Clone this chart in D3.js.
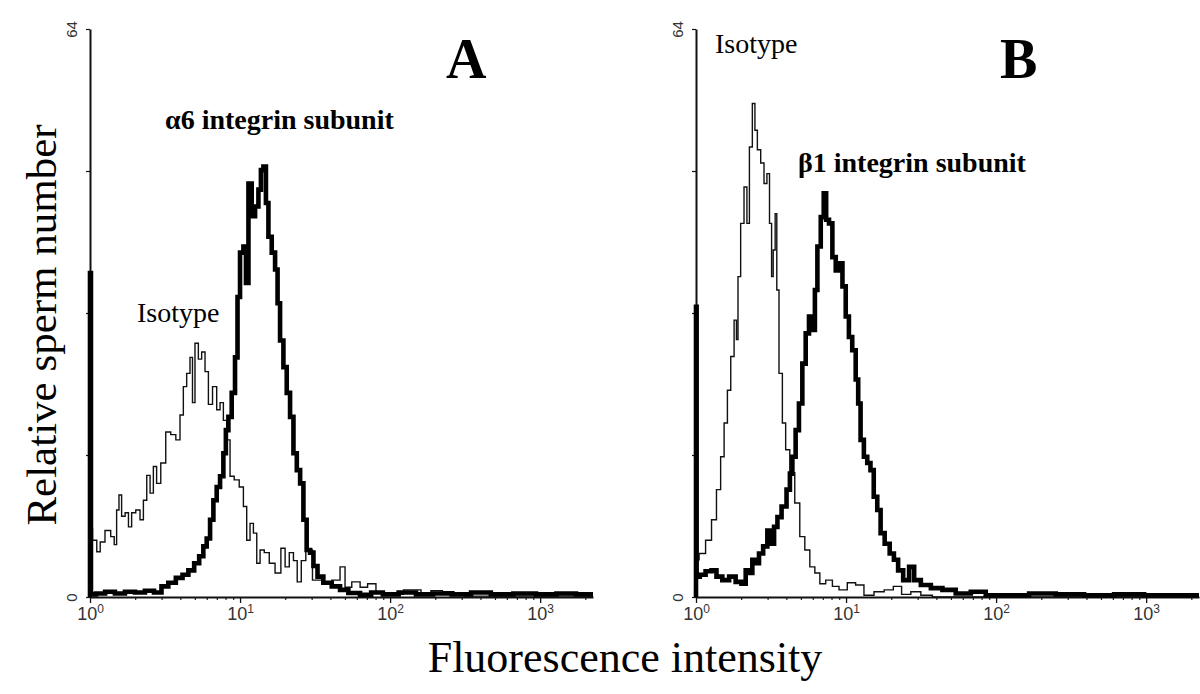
<!DOCTYPE html>
<html>
<head>
<meta charset="utf-8">
<script src="https://cdn.jsdelivr.net/npm/d3@7"></script>
<style>
  body { margin: 0; background: #fff; }
  svg { display: block; }
</style>
</head>
<body>
<svg id="chart" width="1200" height="694"></svg>
<script>
// fluorescence intensity (linear units) vs relative sperm number (0-64)
// panel A: alpha6 integrin subunit and its isotype control
const alpha6A = [
  [1, 0], [1, 36.5], [1.03, 0.3], [1.17, 0.4], [1.36, 0.6], [1.58, 0.4], [1.85, 0.6],
  [2.15, 0.5], [2.51, 0.7], [2.84, 0.5], [3.16, 1.2], [3.5, 1.6], [3.98, 2.15],
  [4.3, 2.5], [4.76, 3.0], [5.14, 3.8], [5.55, 4.6], [5.84, 5.7], [6.15, 6.6],
  [6.48, 8.7], [6.81, 10.9], [7.17, 12.4], [7.55, 13.6], [7.94, 16.2], [8.15, 18.8],
  [8.58, 20.3], [9.02, 23], [9.5, 27], [9.74, 33.8], [10.26, 38.8], [10.8, 39.5],
  [11.1, 35.4], [11.66, 46.6], [12.27, 42.9], [12.92, 44], [13.6, 45.9], [13.95, 48.1],
  [14.68, 48.5], [15.07, 44.4], [15.85, 40.6], [16.68, 38.8], [17.57, 36.9], [18.0, 33.1],
  [18.97, 28.9], [19.95, 25.9], [21.0, 23], [22.1, 20.3], [23.3, 16.2], [24.5, 14.3],
  [25.8, 12.8], [27.1, 8.7], [28.5, 5.3], [30.1, 5.0], [31.6, 3.5], [34.1, 2.3],
  [37.8, 1.6], [44.1, 1.2], [48.8, 0.8], [56.9, 0.45], [69.9, 0.25], [80, 0.5],
  [100, 0.3], [130, 0.5], [170, 0.3], [220, 0.4], [300, 0.3], [400, 0.5], [550, 0.3],
  [800, 0.4], [1100, 0.3], [1500, 0.4], [2000, 0.3], [2250, 0.3]
];
const isotypeA = [
  [1.0, 0], [1.0, 7.7], [1.08, 6.4], [1.14, 5.1], [1.2, 6.2], [1.32, 7.5], [1.43, 6.8],
  [1.47, 5.9], [1.54, 9.8], [1.58, 11.5], [1.67, 9.1], [1.76, 9.5], [1.85, 7.9],
  [1.94, 9.5], [2.1, 9.8], [2.21, 8.7], [2.33, 10.9], [2.45, 13.7], [2.58, 11.7],
  [2.71, 14.7], [2.85, 12.8], [3.08, 15.1], [3.32, 18.6], [3.59, 18.3], [3.88, 17.7],
  [4.08, 20.5], [4.3, 23.7], [4.52, 25.2], [4.76, 27.0], [4.88, 21.9], [5.14, 28.6],
  [5.41, 26.8], [5.69, 27.6], [6.0, 25.4], [6.31, 21.7], [6.81, 23.7], [7.17, 21.1],
  [7.55, 21.9], [7.94, 19.9], [8.36, 17.7], [8.8, 13.6], [9.5, 13.2], [10.26, 12.4],
  [10.8, 10.2], [11.36, 6.4], [11.96, 8.3], [12.6, 7.2], [13.25, 3.8], [13.95, 5.3],
  [15.07, 5.0], [16.27, 3.8], [18.0, 2.7], [19.45, 5.5], [20.5, 3.4], [22.1, 5.0],
  [23.3, 4.1], [24.8, 1.7], [26.4, 4.1], [28.5, 5.3], [32.4, 1.9], [37.8, 1.6],
  [44.1, 1.9], [48.8, 3.4], [51.4, 1.1], [60, 1.7], [66.4, 1.1], [75.5, 1.5],
  [85.8, 0.45], [100, 0.3], [151, 0.8], [171, 0.3], [205, 0.7], [243, 0.6], [292, 0.4],
  [340, 0.1], [2250, 0.1]
];
// panel B: beta1 integrin subunit and its isotype control
const beta1B = [
  [1, 0], [1, 32.7], [1.02, 2.3], [1.10, 2.5], [1.22, 2.9], [1.32, 3.0], [1.42, 2.3],
  [1.58, 1.9], [1.75, 2.3], [1.93, 1.7], [2.09, 1.5], [2.20, 3.0], [2.31, 2.7],
  [2.44, 4.2], [2.56, 3.8], [2.70, 4.9], [2.91, 5.7], [3.07, 7.5], [3.23, 6.0],
  [3.40, 7.9], [3.58, 9.0], [3.86, 10.2], [4.17, 12.1], [4.28, 13.9], [4.50, 15.8],
  [4.73, 18.8], [4.98, 21.8], [5.25, 26.3], [5.52, 29.7], [5.81, 31.6], [6.12, 30.1],
  [6.28, 34.6], [6.61, 39.5], [6.96, 42.8], [7.24, 45.5], [7.50, 42.5], [7.90, 42.1],
  [8.32, 38.3], [8.76, 36.8], [9.22, 37.6], [9.71, 35.0], [10.2, 31.6], [10.7, 29.3],
  [11.3, 27.8], [11.9, 24.5], [12.2, 21.8], [12.8, 17.7], [13.5, 15.8], [14.2, 15.1],
  [14.9, 14.3], [15.7, 11.3], [16.6, 9.8], [17.4, 7.2], [18.8, 6.0], [20.3, 4.9],
  [21.4, 4.2], [23.1, 3.0], [25.0, 1.9], [27.7, 3.4], [29.2, 1.9], [34.0, 1.35],
  [39.7, 1.0], [48.5, 0.8], [59.7, 0.4], [77.0, 0.6], [94.5, 0.2], [135, 0.2],
  [204, 0.4], [306, 0.3], [486, 0.2], [770, 0.3], [1220, 0.2], [2250, 0.2]
];
const isotypeB = [
  [1.0, 0], [1.0, 4.2], [1.10, 4.9], [1.22, 6.4], [1.32, 8.7], [1.42, 12.1], [1.50, 15.8],
  [1.58, 19.6], [1.66, 23.3], [1.75, 27.1], [1.84, 31.2], [1.88, 29], [1.93, 36.1],
  [2.04, 42.1], [2.14, 46.2], [2.23, 42.1], [2.31, 50.7], [2.44, 55.6], [2.50, 52.6],
  [2.63, 50.4], [2.77, 48.9], [2.91, 46.6], [3.03, 47.7], [3.15, 42.1], [3.23, 36.1],
  [3.31, 39.1], [3.43, 43.2], [3.48, 34.6], [3.67, 25.2], [3.86, 19.6], [4.06, 16.6],
  [4.38, 14], [4.73, 10.6], [5.11, 6.8], [5.52, 5.3], [5.96, 3.4], [6.44, 2.7],
  [6.95, 1.5], [7.70, 1.9], [8.54, 1.2], [9.44, 0.8], [11.0, 1.6], [12.2, 1.35],
  [14.2, 0.2], [16.6, 0.6], [19.4, 0.8], [22.0, 1.2], [25.0, 0.3], [29.2, 0.6],
  [34.0, 0.2], [41.7, 0], [2250, 0]
];

const panels = [
  { letter: "A", left: 90, right: 593, pos: alpha6A, iso: isotypeA,
    posLabel: "\u03b16 integrin subunit", posXY: [165, 129],
    isoXY: [137, 322], letterXY: [446, 78] },
  { letter: "B", left: 696, right: 1199, pos: beta1B, iso: isotypeB,
    posLabel: "\u03b21 integrin subunit", posXY: [798, 172],
    isoXY: [715, 53], letterXY: [1000, 78] }
];

const xDomain = [1, 2250];
const yDomain = [0, 64];
const yTop = 29, yBottom = 597;

const svg = d3.select("#chart");

const sans = "'Liberation Sans', Arial, sans-serif";
const serif = "'Liberation Serif', 'Times New Roman', serif";

panels.forEach(p => {
  const x = d3.scaleLog().domain(xDomain).range([p.left, p.right]);
  const y = d3.scaleLinear().domain(yDomain).range([yBottom, yTop]);

  const g = svg.append("g");

  // minor x ticks
  const minor = [];
  [1, 10, 100, 1000].forEach(d => {
    for (let k = 2; k <= 9; k++) if (d * k <= xDomain[1]) minor.push(d * k);
  });
  g.append("g")
    .attr("transform", "translate(0," + yBottom + ")")
    .call(d3.axisBottom(x).tickValues(minor).tickSize(3).tickSizeOuter(0).tickFormat(""))
    .call(a => a.select(".domain").remove())
    .selectAll("line").attr("stroke", "#222").attr("stroke-width", 1.2);

  // major x ticks and labels 10^n
  const xAxis = g.append("g")
    .attr("transform", "translate(0," + yBottom + ")")
    .call(d3.axisBottom(x).tickValues([1, 10, 100, 1000]).tickSize(6).tickSizeOuter(0).tickFormat(""));
  xAxis.select(".domain").attr("stroke", "#111").attr("stroke-width", 2.2);
  xAxis.selectAll("line").attr("stroke", "#111").attr("stroke-width", 1.3);
  xAxis.selectAll(".tick").each(function (d) {
    const t = d3.select(this).append("text")
      .attr("y", 23)
      .attr("fill", "#333")
      .attr("text-anchor", "middle")
      .style("font-family", sans)
      .style("font-size", "18px");
    t.append("tspan").text("10");
    t.append("tspan").attr("dy", -7).style("font-size", "12px").text(Math.round(Math.log10(d)));
  });

  // y axis
  const yAxis = g.append("g")
    .attr("transform", "translate(" + p.left + ",0)")
    .call(d3.axisLeft(y).tickValues([0, 16, 32, 48, 64]).tickSize(4).tickSizeOuter(0)
      .tickFormat(d => (d === 0 || d === 64) ? d : ""));
  yAxis.select(".domain").attr("stroke", "#111").attr("stroke-width", 2);
  yAxis.selectAll("line").attr("stroke", "#111").attr("stroke-width", 1.2);
  yAxis.selectAll("text")
    .attr("x", 0).attr("y", -13).attr("dy", null)
    .attr("transform", "rotate(-90)")
    .attr("text-anchor", "middle")
    .attr("fill", "#333")
    .style("font-family", sans)
    .style("font-size", "15px");

  const line = d3.line()
    .x(d => x(d[0]))
    .y(d => y(d[1]))
    .curve(d3.curveStep);

  g.append("path")
    .datum(p.iso)
    .attr("d", line)
    .attr("fill", "none")
    .attr("stroke", "#111")
    .attr("stroke-width", 1.4);

  g.append("path")
    .datum(p.pos)
    .attr("d", line)
    .attr("fill", "none")
    .attr("stroke", "#000")
    .attr("stroke-width", 4.6)
    .attr("stroke-linejoin", "miter");

  g.append("text")
    .attr("x", p.letterXY[0]).attr("y", p.letterXY[1])
    .style("font-family", serif).style("font-weight", "bold").style("font-size", "56px")
    .text(p.letter);

  g.append("text")
    .attr("x", p.posXY[0]).attr("y", p.posXY[1])
    .style("font-family", serif).style("font-weight", "bold").style("font-size", "28px")
    .text(p.posLabel);

  g.append("text")
    .attr("x", p.isoXY[0]).attr("y", p.isoXY[1])
    .style("font-family", serif).style("font-size", "28px")
    .text("Isotype");
});

svg.append("text")
  .attr("transform", "translate(56,325) rotate(-90)")
  .attr("text-anchor", "middle")
  .style("font-family", serif).style("font-size", "43px")
  .text("Relative sperm number");

svg.append("text")
  .attr("x", 625).attr("y", 672)
  .attr("text-anchor", "middle")
  .style("font-family", serif).style("font-size", "44px")
  .text("Fluorescence intensity");
</script>
</body>
</html>
